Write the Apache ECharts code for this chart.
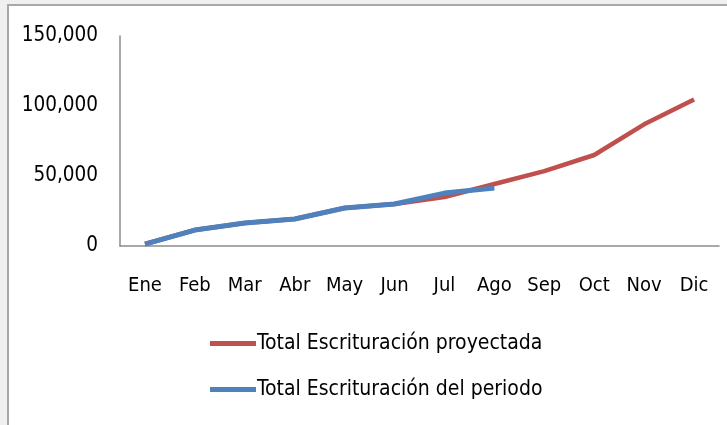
<!DOCTYPE html>
<html><head><meta charset="utf-8">
<script src="https://cdn.jsdelivr.net/npm/echarts@6/dist/echarts.min.js"></script>
<style>
html,body{margin:0;padding:0;background:#f0f0f0;width:727px;height:425px;overflow:hidden}
#c{position:absolute;left:7px;top:4px;width:720px;height:421px;background:#fff;border-left:2px solid #a8a8a8;border-top:2px solid #a8a8a8;box-sizing:border-box}
</style></head><body>
<div id="c"></div>
<script>
const categories = ['Ene','Feb','Mar','Abr','May','Jun','Jul','Ago','Sep','Oct','Nov','Dic'];
const proyectada = [1400, 11400, 16400, 19300, 27100, 30000, 35000, 44300, 53500, 65000, 86900, 104700];
const periodo = [1400, 11400, 16400, 19300, 27100, 30000, 37800, 41400];
const seriesNames = ['Total Escrituración proyectada', 'Total Escrituración del periodo'];
const yTicks = [0, 50000, 100000, 150000];

const font = '"DejaVu Sans Condensed",sans-serif';
const chart = echarts.init(document.getElementById('c'));
chart.setOption({
  animation: false,
  grid: {left: 111, right: 8, top: 30, bottom: 179},
  xAxis: {
    type: 'category', data: categories, boundaryGap: true,
    axisLine: {lineStyle: {color: '#8c8c8c', width: 1.5}},
    axisTick: {show: false},
    axisLabel: {color: '#000', fontFamily: font, fontSize: 20, margin: 30, interval: 0}
  },
  yAxis: {
    type: 'value', min: yTicks[0], max: yTicks[yTicks.length-1], interval: 50000,
    axisLine: {show: true, lineStyle: {color: '#8c8c8c', width: 1.5}},
    axisTick: {show: false},
    splitLine: {show: false},
    axisLabel: {color: '#000', fontFamily: font, fontSize: 20.5, margin: 22, padding: [5,0,0,0],
      formatter: v => v.toLocaleString('en-US')}
  },
  legend: {
    orient: 'vertical', left: 196, top: 322, itemGap: 25,
    icon: 'rect', itemWidth: 46, itemHeight: 5,
    textStyle: {color: '#000', fontFamily: font, fontSize: 21, padding: [0,0,0,-4]},
    data: seriesNames
  },
  series: [
    {name: seriesNames[0], type: 'line', data: proyectada, symbol: 'none',
     lineStyle: {color: '#C0504D', width: 4.5}, itemStyle: {color: '#C0504D'}},
    {name: seriesNames[1], type: 'line', data: periodo, symbol: 'none',
     lineStyle: {color: '#4F81BD', width: 5}, itemStyle: {color: '#4F81BD'}}
  ]
});
</script>
</body></html>
